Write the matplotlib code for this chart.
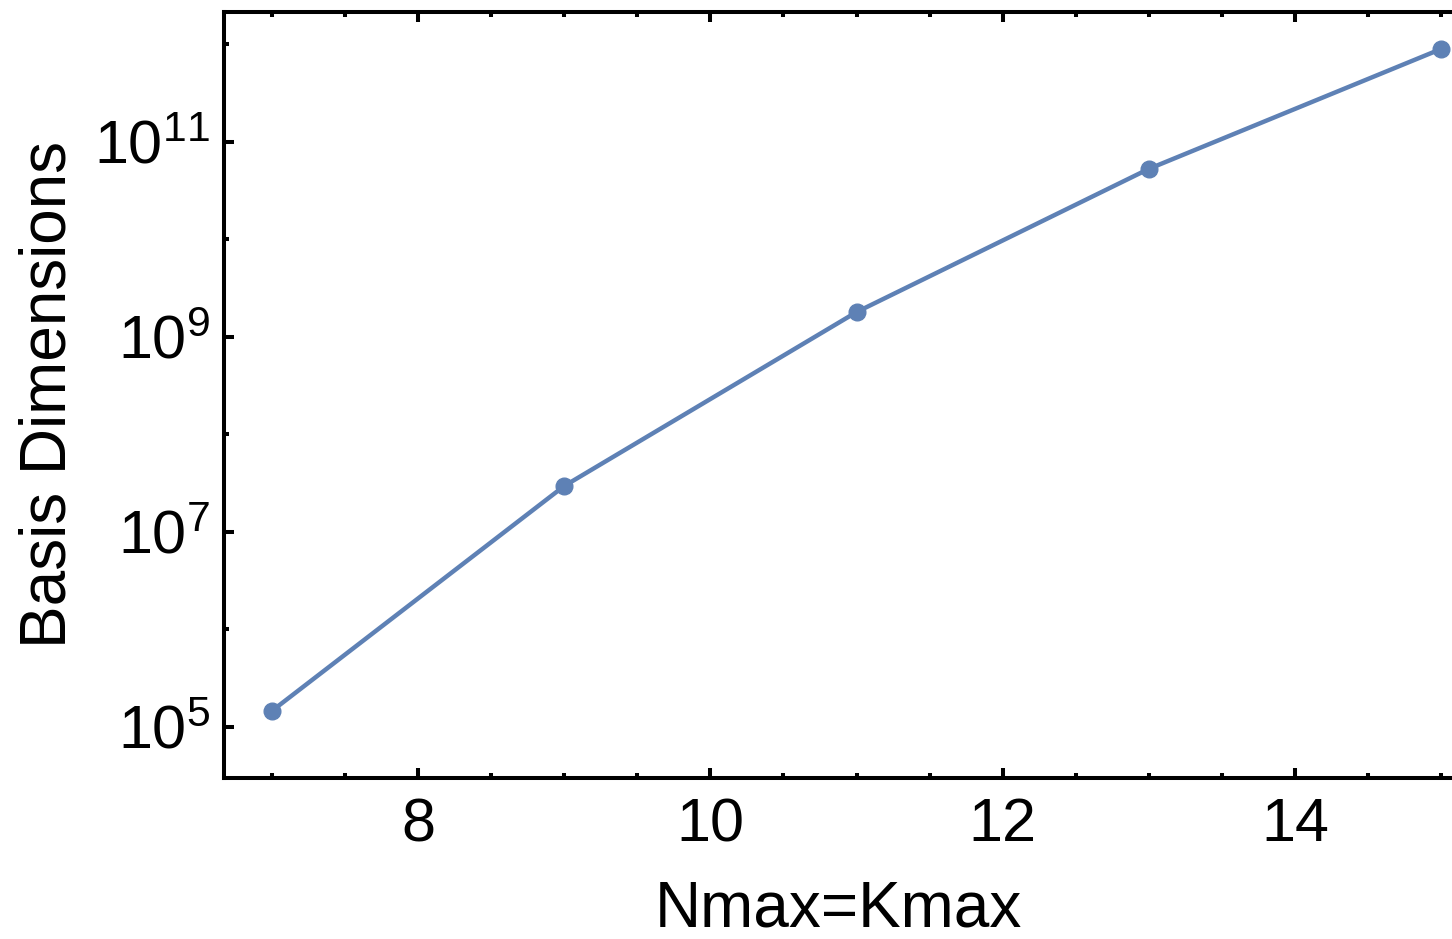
import numpy as np
import matplotlib
matplotlib.use("Agg")
import matplotlib.pyplot as plt
from matplotlib.ticker import FuncFormatter

plt.rcParams['font.family'] = ['Liberation Sans', 'DejaVu Sans']
plt.rcParams['mathtext.fontset'] = 'custom'
plt.rcParams['mathtext.rm'] = 'Liberation Sans'
plt.rcParams['mathtext.it'] = 'Liberation Sans'

# data
nmax = [7, 9, 11, 13, 15]
basis_dim = [1.46e5, 2.96e7, 1.8e9, 5.3e10, 9.0e11]

x_major = [8, 10, 12, 14]
x_minor = [7, 7.5, 8.5, 9, 9.5, 10.5, 11, 11.5, 12.5, 13, 13.5, 14.5, 15]
y_major = [1e5, 1e7, 1e9, 1e11]
y_minor = [1e6, 1e8, 1e10, 1e12]

color = '#5E81B5'

fig = plt.figure(figsize=(14.52, 9.39), dpi=100)
ax = fig.add_axes([0.1543, 0.1715, 0.8457, 0.8157])

ax.plot(nmax, basis_dim, color=color, lw=3.2, marker='o', ms=12, zorder=3, clip_on=False)

ax.set_yscale('log')
ax.set_xlim(6.673, 15.074)
ax.set_ylim(10 ** 4.477, 10 ** 12.333)

ax.set_xticks(x_major)
ax.set_xticks(x_minor, minor=True)
ax.set_yticks(y_major)
ax.set_yticks(y_minor, minor=True)
ax.yaxis.set_minor_formatter(FuncFormatter(lambda v, p: ''))
ax.yaxis.set_major_formatter(FuncFormatter(
    lambda v, p: r'$\mathregular{10^{%d}}$' % int(round(np.log10(v)))))

for s in ['left', 'bottom', 'top']:
    ax.spines[s].set_linewidth(2.9)
ax.spines['right'].set_visible(False)

ax.tick_params(axis='x', which='both', direction='in', top=True, bottom=True,
               labelsize=44, pad=14)
ax.tick_params(axis='y', which='both', direction='in', left=True, right=False,
               labelsize=44, pad=10)
ax.tick_params(which='major', length=7, width=2.9)
ax.tick_params(which='minor', length=3.5, width=2.9)

ax.set_xlabel('Nmax=Kmax', fontsize=46, labelpad=18)
ax.set_ylabel('Basis Dimensions', fontsize=46, labelpad=11)

fig.savefig('out.png', dpi=100)
